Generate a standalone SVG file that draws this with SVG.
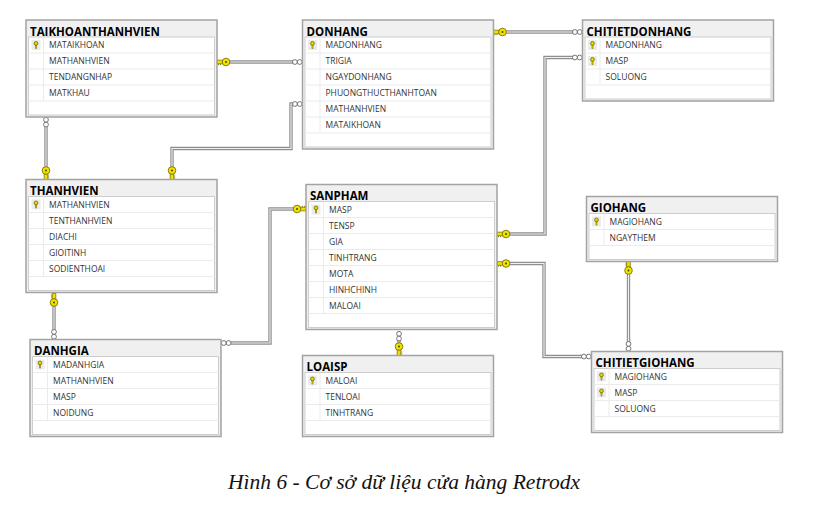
<svg xmlns="http://www.w3.org/2000/svg" xmlns:xlink="http://www.w3.org/1999/xlink" width="818" height="516" viewBox="0 0 818 516">
<style>
.fr{fill:#f0f0f0;stroke:#a3a3a3;stroke-width:1.5}
.pn{fill:#fff;stroke:#cdcdcd;stroke-width:1}
.sep{fill:none;stroke:#ebebeb;stroke-width:1}
.tt{font-family:"Open Sans","Noto Sans",sans-serif;font-weight:700;font-size:11.5px;fill:#000}
.f{font-family:"Open Sans","Noto Sans",sans-serif;font-size:8.5px;fill:#333}
.c1{fill:none;stroke:#8f8f8f;stroke-width:3.4}
.c2{fill:none;stroke:#efefef;stroke-width:1.1}
.cap{font-family:"Liberation Serif","Times New Roman",serif;font-style:italic;font-size:21.5px;fill:#111}
</style>
<defs>
<g id="pk">
<rect x="-4.5" y="-5" width="9" height="10" fill="#ebebeb"/>
<path d="M0,0V3.8" stroke="#6f6a00" stroke-width="1.6"/>
<path d="M0,0.2V3.4" stroke="#e6d600" stroke-width="0.6"/>
<circle cx="0" cy="-1.6" r="1.9" fill="#e6d600" stroke="#6f6a00" stroke-width="0.8"/>
</g>
<g id="ck">
<path d="M0,-1.8H5.6V1.8H0Z" fill="#f2e200" stroke="#7a7400" stroke-width="0.8"/>
<path d="M1.5,1.8V3.2M3.5,1.8V3.2" stroke="#7a7400" stroke-width="0.8"/>
<circle cx="9" cy="0" r="3.8" fill="#f2e200" stroke="#7a7400" stroke-width="0.9"/>
<circle cx="9" cy="0" r="1" fill="#4a4500"/>
</g>
<g id="cr">
<circle cx="2.8" cy="0" r="2.4" fill="#fff" stroke="#666" stroke-width="0.9"/>
<circle cx="7.6" cy="0" r="2.4" fill="#fff" stroke="#666" stroke-width="0.9"/>
</g>
</defs>
<rect width="818" height="516" fill="#fff"/>

<g id="connectors">
<path class="c1" d="M229,62H293"/><path class="c2" d="M229,62H293"/>
<path class="c1" d="M172,167V148.5H291V104H293"/><path class="c2" d="M172,167V148.5H291V104H293"/>
<path class="c1" d="M46,167V127"/><path class="c2" d="M46,167V127"/>
<path class="c1" d="M54,306V330"/><path class="c2" d="M54,306V330"/>
<path class="c1" d="M294,209H270V343H231"/><path class="c2" d="M294,209H270V343H231"/>
<path class="c1" d="M506,32H573"/><path class="c2" d="M506,32H573"/>
<path class="c1" d="M509,234H545V57.5H573"/><path class="c2" d="M509,234H545V57.5H573"/>
<path class="c1" d="M509,263.5H544V356.5H582"/><path class="c2" d="M509,263.5H544V356.5H582"/>
<path class="c1" d="M628.5,274V342"/><path class="c2" d="M628.5,274V342"/>
<path class="c1" d="M399,340V344"/><path class="c2" d="M399,340V344"/>
<use href="#ck" transform="translate(217,62)"/>
<use href="#cr" transform="translate(302.5,62) rotate(180)"/>
<use href="#ck" transform="translate(172,179.5) rotate(-90)"/>
<use href="#cr" transform="translate(302.5,104) rotate(180)"/>
<use href="#ck" transform="translate(46,179.5) rotate(-90)"/>
<use href="#cr" transform="translate(46,117) rotate(90)"/>
<use href="#ck" transform="translate(54,293.5) rotate(90)"/>
<use href="#cr" transform="translate(54,339.5) rotate(-90)"/>
<use href="#ck" transform="translate(306,209) rotate(180)"/>
<use href="#cr" transform="translate(221,343)"/>
<use href="#ck" transform="translate(493.5,32)"/>
<use href="#cr" transform="translate(582.5,32) rotate(180)"/>
<use href="#ck" transform="translate(497,234)"/>
<use href="#cr" transform="translate(582.5,57.5) rotate(180)"/>
<use href="#ck" transform="translate(497,263.5)"/>
<use href="#cr" transform="translate(591.5,356.5) rotate(180)"/>
<use href="#ck" transform="translate(628.5,261.5) rotate(90)"/>
<use href="#cr" transform="translate(628.5,351.5) rotate(-90)"/>
<use href="#cr" transform="translate(399,331) rotate(90)"/>
<use href="#ck" transform="translate(399,355.5) rotate(-90)"/>
</g>

<g id="TAIKHOANTHANHVIEN" transform="translate(26,20)">
<rect class="fr" width="191" height="97"/>
<text class="tt" x="4" y="15.5">TAIKHOANTHANHVIEN</text>
<rect class="pn" x="2.5" y="17" width="186" height="78"/>
<path class="sep" d="M2.5,33H188.5M2.5,49H188.5M2.5,65H188.5M2.5,81H188.5M17.5,17V81"/>
<use href="#pk" x="10" y="25"/>
<text class="f" x="23" y="28">MATAIKHOAN</text>
<text class="f" x="23" y="44">MATHANHVIEN</text>
<text class="f" x="23" y="60">TENDANGNHAP</text>
<text class="f" x="23" y="76">MATKHAU</text>
</g>

<g id="DONHANG" transform="translate(302.5,20)">
<rect class="fr" width="191" height="129"/>
<text class="tt" x="4" y="15.5">DONHANG</text>
<rect class="pn" x="2.5" y="17" width="186" height="110"/>
<path class="sep" d="M2.5,33H188.5M2.5,49H188.5M2.5,65H188.5M2.5,81H188.5M2.5,97H188.5M2.5,113H188.5M17.5,17V113"/>
<use href="#pk" x="10" y="25"/>
<text class="f" x="23" y="28">MADONHANG</text>
<text class="f" x="23" y="44">TRIGIA</text>
<text class="f" x="23" y="60">NGAYDONHANG</text>
<text class="f" x="23" y="76">PHUONGTHUCTHANHTOAN</text>
<text class="f" x="23" y="92">MATHANHVIEN</text>
<text class="f" x="23" y="108">MATAIKHOAN</text>
</g>

<g id="CHITIETDONHANG" transform="translate(582.5,20)">
<rect class="fr" width="191" height="81"/>
<text class="tt" x="4" y="15.5">CHITIETDONHANG</text>
<rect class="pn" x="2.5" y="17" width="186" height="62"/>
<path class="sep" d="M2.5,33H188.5M2.5,49H188.5M2.5,65H188.5M17.5,17V65"/>
<use href="#pk" x="10" y="25"/>
<use href="#pk" x="10" y="41"/>
<text class="f" x="23" y="28">MADONHANG</text>
<text class="f" x="23" y="44">MASP</text>
<text class="f" x="23" y="60">SOLUONG</text>
</g>

<g id="THANHVIEN" transform="translate(26,179.5)">
<rect class="fr" width="191" height="113"/>
<text class="tt" x="4" y="15.5">THANHVIEN</text>
<rect class="pn" x="2.5" y="17" width="186" height="94"/>
<path class="sep" d="M2.5,33H188.5M2.5,49H188.5M2.5,65H188.5M2.5,81H188.5M2.5,97H188.5M17.5,17V97"/>
<use href="#pk" x="10" y="25"/>
<text class="f" x="23" y="28">MATHANHVIEN</text>
<text class="f" x="23" y="44">TENTHANHVIEN</text>
<text class="f" x="23" y="60">DIACHI</text>
<text class="f" x="23" y="76">GIOITINH</text>
<text class="f" x="23" y="92">SODIENTHOAI</text>
</g>

<g id="SANPHAM" transform="translate(306,184.5)">
<rect class="fr" width="191" height="145"/>
<text class="tt" x="4" y="15.5">SANPHAM</text>
<rect class="pn" x="2.5" y="17" width="186" height="126"/>
<path class="sep" d="M2.5,33H188.5M2.5,49H188.5M2.5,65H188.5M2.5,81H188.5M2.5,97H188.5M2.5,113H188.5M2.5,129H188.5M17.5,17V129"/>
<use href="#pk" x="10" y="25"/>
<text class="f" x="23" y="28">MASP</text>
<text class="f" x="23" y="44">TENSP</text>
<text class="f" x="23" y="60">GIA</text>
<text class="f" x="23" y="76">TINHTRANG</text>
<text class="f" x="23" y="92">MOTA</text>
<text class="f" x="23" y="108">HINHCHINH</text>
<text class="f" x="23" y="124">MALOAI</text>
</g>

<g id="DANHGIA" transform="translate(30,339.5)">
<rect class="fr" width="191" height="97"/>
<text class="tt" x="4" y="15.5">DANHGIA</text>
<rect class="pn" x="2.5" y="17" width="186" height="78"/>
<path class="sep" d="M2.5,33H188.5M2.5,49H188.5M2.5,65H188.5M2.5,81H188.5M17.5,17V81"/>
<use href="#pk" x="10" y="25"/>
<text class="f" x="23" y="28">MADANHGIA</text>
<text class="f" x="23" y="44">MATHANHVIEN</text>
<text class="f" x="23" y="60">MASP</text>
<text class="f" x="23" y="76">NOIDUNG</text>
</g>

<g id="LOAISP" transform="translate(302.5,355.5)">
<rect class="fr" width="191" height="81"/>
<text class="tt" x="4" y="15.5">LOAISP</text>
<rect class="pn" x="2.5" y="17" width="186" height="62"/>
<path class="sep" d="M2.5,33H188.5M2.5,49H188.5M2.5,65H188.5M17.5,17V65"/>
<use href="#pk" x="10" y="25"/>
<text class="f" x="23" y="28">MALOAI</text>
<text class="f" x="23" y="44">TENLOAI</text>
<text class="f" x="23" y="60">TINHTRANG</text>
</g>

<g id="GIOHANG" transform="translate(586.5,196.5)">
<rect class="fr" width="191" height="65"/>
<text class="tt" x="4" y="15.5">GIOHANG</text>
<rect class="pn" x="2.5" y="17" width="186" height="46"/>
<path class="sep" d="M2.5,33H188.5M2.5,49H188.5M17.5,17V49"/>
<use href="#pk" x="10" y="25"/>
<text class="f" x="23" y="28">MAGIOHANG</text>
<text class="f" x="23" y="44">NGAYTHEM</text>
</g>

<g id="CHITIETGIOHANG" transform="translate(591.5,351.5)">
<rect class="fr" width="191" height="81"/>
<text class="tt" x="4" y="15.5">CHITIETGIOHANG</text>
<rect class="pn" x="2.5" y="17" width="186" height="62"/>
<path class="sep" d="M2.5,33H188.5M2.5,49H188.5M2.5,65H188.5M17.5,17V65"/>
<use href="#pk" x="10" y="25"/>
<use href="#pk" x="10" y="41"/>
<text class="f" x="23" y="28">MAGIOHANG</text>
<text class="f" x="23" y="44">MASP</text>
<text class="f" x="23" y="60">SOLUONG</text>
</g>

<text class="cap" x="404" y="489" text-anchor="middle">Hình 6 - Cơ sở dữ liệu cửa hàng Retrodx</text>
</svg>
